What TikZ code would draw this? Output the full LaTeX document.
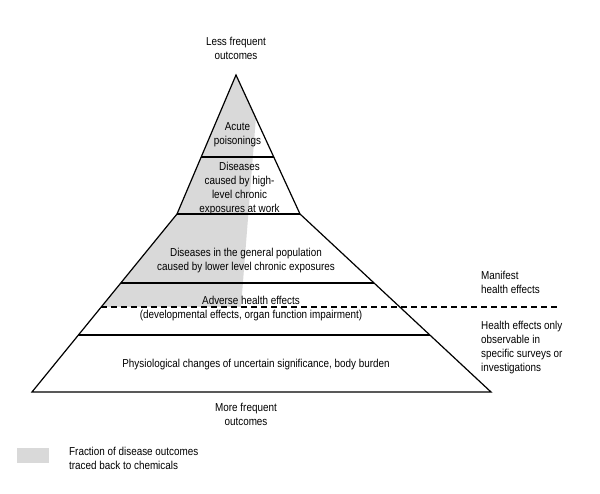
\documentclass[tikz,border=0pt]{standalone}
\usepackage{fontspec}
\setmainfont{Liberation Sans}[FakeStretch=0.86]
\definecolor{chemgray}{HTML}{D9D9D9}
\begin{document}
\begin{tikzpicture}[x=1pt,y=-1pt,
  lbl/.style={inner sep=0pt, align=center, font=\fontsize{11.5}{14}\selectfont},
  lbll/.style={inner sep=0pt, align=left, anchor=west, font=\fontsize{11.5}{14}\selectfont},
  edge/.style={line width=1.2pt, line join=miter},
  sep/.style={line width=1.1pt},
  dashsep/.style={line width=1.1pt, dash pattern=on 6pt off 4pt}]
\useasboundingbox (0,0) rectangle (600,494);
% outline vertices
\coordinate (A) at (236,75);
\coordinate (TR) at (300,214);
\coordinate (BR) at (491,392);
\coordinate (BL) at (32,392);
\coordinate (TL) at (177,214);
% shaded fraction
\coordinate (G1) at (256,117);
\coordinate (G2) at (241,307);
\coordinate (D1) at (101.2,307);
\fill[chemgray] (A) -- (G1) -- (G2) -- (D1) -- (TL) -- cycle;
% separators
\coordinate (L1a) at (201.2,157); \coordinate (L1b) at (273.8,157);
\coordinate (L3a) at (120.8,283); \coordinate (L3b) at (374,283);
\coordinate (D2) at (557,307);
\coordinate (L5a) at (78.4,335); \coordinate (L5b) at (429.8,335);
\draw[sep] (L1a) -- (L1b);
\draw[sep] (TL) -- (TR);
\draw[sep] (L3a) -- (L3b);
\draw[sep] (L5a) -- (L5b);
\draw[dashsep] (D1) -- (D2);
\draw[edge] (A) -- (TR) -- (BR) -- (BL) -- (TL) -- cycle;
% labels
\node[lbl] (top) at (236,48) {Less frequent\\outcomes};
\node[lbl] (acute) at (237.5,135) {Acute\\poisonings};
\node[lbl] (work) at (239.5,188.5) {Diseases\\caused by high-\\level chronic\\exposures at work};
\node[lbl] (general) at (246,261) {Diseases in the general population\\caused by lower level chronic exposures};
\node[lbl] (adverse) at (251,309) {Adverse health effects\\(developmental effects, organ function impairment)};
\node[lbl] (phys) at (256,364.5) {Physiological changes of uncertain significance, body burden};
\node[lbl] (bottom) at (246,414) {More frequent\\outcomes};
\node[lbll] (manifest) at (481,282) {Manifest\\health effects};
\node[lbll] (observ) at (481,348) {Health effects only\\observable in\\specific surveys or\\investigations};
\fill[chemgray] (17,447.7) rectangle (49,462.7);
\node[lbll] (legend) at (69,458) {Fraction of disease outcomes\\traced back to chemicals};
\end{tikzpicture}
\end{document}
